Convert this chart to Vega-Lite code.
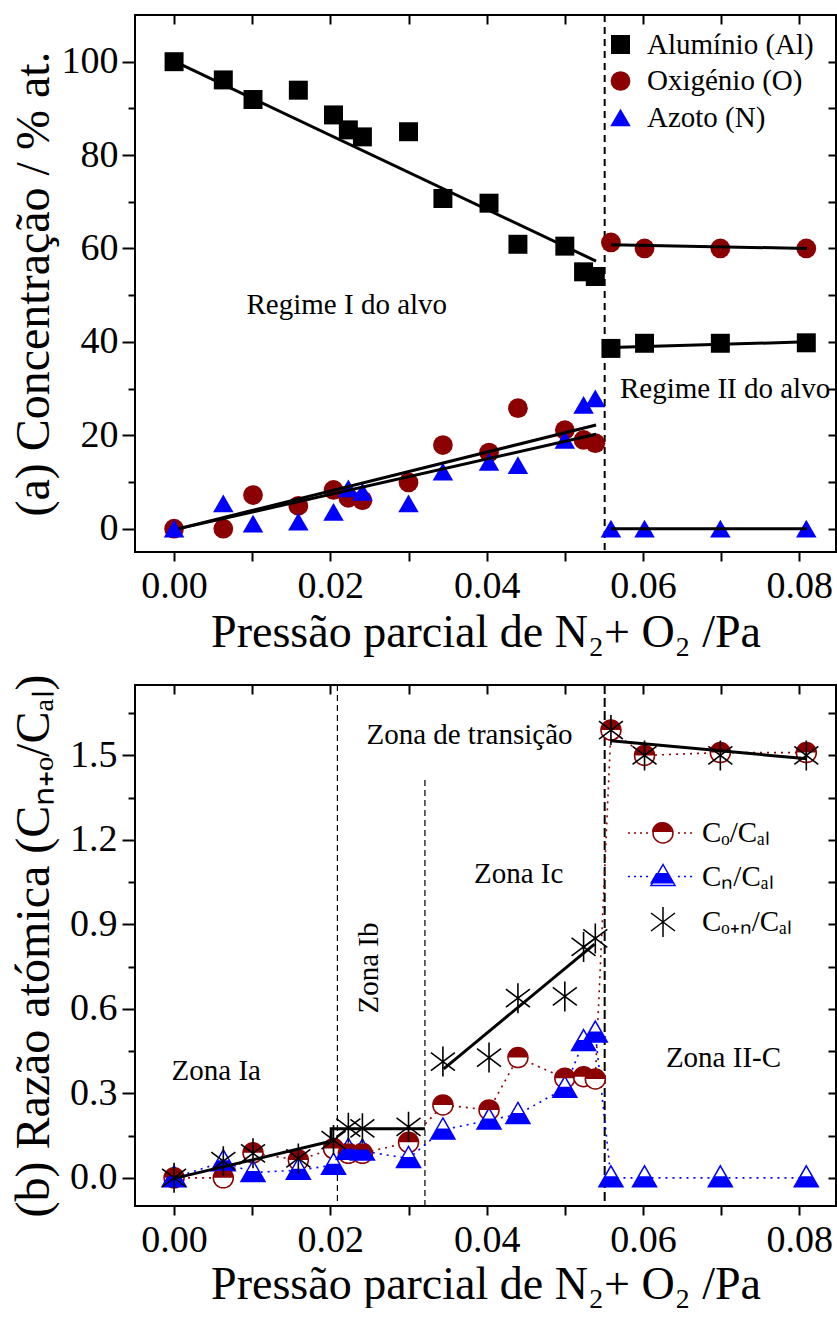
{
  "padding": {"left": 8, "top": 13, "right": 0, "bottom": 0},
  "background": "white",
  "spacing": 133,
  "bounds": "flush",
  "resolve": {
    "scale": {"color": "independent", "shape": "independent", "size": "independent", "fill": "independent", "stroke": "independent"},
    "legend": {"color": "independent", "shape": "independent", "size": "independent", "fill": "independent", "stroke": "independent"}
  },
  "config": {
    "font": "Liberation Serif",
    "view": {"stroke": "black", "strokeWidth": 2},
    "style": {"guide-label": {"font": "Liberation Serif"}, "guide-title": {"font": "Liberation Serif"}},
    "axis": {"domain": false, "grid": false, "tickColor": "black", "tickWidth": 2, "labelColor": "black", "titleColor": "black", "labelFont": "Liberation Serif", "titleFont": "Liberation Serif", "labelFontSize": 38, "titleFontSize": 46, "titleFontWeight": "normal", "labelFlush": false, "labelOverlap": false},
    "legend": {"labelFont": "Liberation Serif", "labelColor": "black"}
  },
  "datasets": {
    "conc": [
      {"el": "Alumínio (Al)", "x": 0, "v": 100}, {"el": "Alumínio (Al)", "x": 0.0063, "v": 96.1}, {"el": "Alumínio (Al)", "x": 0.0101, "v": 91.9}, {"el": "Alumínio (Al)", "x": 0.0159, "v": 93.9}, {"el": "Alumínio (Al)", "x": 0.0204, "v": 88.6}, {"el": "Alumínio (Al)", "x": 0.0223, "v": 85.4}, {"el": "Alumínio (Al)", "x": 0.0241, "v": 83.9}, {"el": "Alumínio (Al)", "x": 0.0300, "v": 85.0}, {"el": "Alumínio (Al)", "x": 0.0344, "v": 70.7}, {"el": "Alumínio (Al)", "x": 0.0403, "v": 69.7}, {"el": "Alumínio (Al)", "x": 0.0440, "v": 60.9}, {"el": "Alumínio (Al)", "x": 0.0500, "v": 60.5}, {"el": "Alumínio (Al)", "x": 0.0524, "v": 55.0}, {"el": "Alumínio (Al)", "x": 0.0539, "v": 54.0}, {"el": "Alumínio (Al)", "x": 0.0559, "v": 38.6}, {"el": "Alumínio (Al)", "x": 0.0602, "v": 39.7}, {"el": "Alumínio (Al)", "x": 0.0699, "v": 39.7}, {"el": "Alumínio (Al)", "x": 0.0809, "v": 39.8},
      {"el": "Oxigénio (O)", "x": 0, "v": 0}, {"el": "Oxigénio (O)", "x": 0.0063, "v": 0}, {"el": "Oxigénio (O)", "x": 0.0101, "v": 7.2}, {"el": "Oxigénio (O)", "x": 0.0159, "v": 4.9}, {"el": "Oxigénio (O)", "x": 0.0204, "v": 8.3}, {"el": "Oxigénio (O)", "x": 0.0223, "v": 6.6}, {"el": "Oxigénio (O)", "x": 0.0241, "v": 6.1}, {"el": "Oxigénio (O)", "x": 0.0300, "v": 9.9}, {"el": "Oxigénio (O)", "x": 0.0344, "v": 17.9}, {"el": "Oxigénio (O)", "x": 0.0403, "v": 16.3}, {"el": "Oxigénio (O)", "x": 0.0440, "v": 25.8}, {"el": "Oxigénio (O)", "x": 0.0500, "v": 21.1}, {"el": "Oxigénio (O)", "x": 0.0524, "v": 19.0}, {"el": "Oxigénio (O)", "x": 0.0539, "v": 18.3}, {"el": "Oxigénio (O)", "x": 0.0559, "v": 61.3}, {"el": "Oxigénio (O)", "x": 0.0602, "v": 60.0}, {"el": "Oxigénio (O)", "x": 0.0699, "v": 60.0}, {"el": "Oxigénio (O)", "x": 0.0809, "v": 60.0},
      {"el": "Azoto (N)", "x": 0, "v": 0}, {"el": "Azoto (N)", "x": 0.0063, "v": 5.4}, {"el": "Azoto (N)", "x": 0.0101, "v": 1.1}, {"el": "Azoto (N)", "x": 0.0159, "v": 1.5}, {"el": "Azoto (N)", "x": 0.0204, "v": 3.6}, {"el": "Azoto (N)", "x": 0.0223, "v": 8.6}, {"el": "Azoto (N)", "x": 0.0241, "v": 7.9}, {"el": "Azoto (N)", "x": 0.0300, "v": 5.4}, {"el": "Azoto (N)", "x": 0.0344, "v": 12.2}, {"el": "Azoto (N)", "x": 0.0403, "v": 14.3}, {"el": "Azoto (N)", "x": 0.0440, "v": 13.6}, {"el": "Azoto (N)", "x": 0.0500, "v": 19.0}, {"el": "Azoto (N)", "x": 0.0524, "v": 26.5}, {"el": "Azoto (N)", "x": 0.0539, "v": 27.9}, {"el": "Azoto (N)", "x": 0.0559, "v": 0}, {"el": "Azoto (N)", "x": 0.0602, "v": 0}, {"el": "Azoto (N)", "x": 0.0699, "v": 0}, {"el": "Azoto (N)", "x": 0.0809, "v": 0}
    ],
    "fitA": [
      {"seg": "Al1", "x": 0.001, "v": 99.3}, {"seg": "Al1", "x": 0.054, "v": 57.3},
      {"seg": "O1", "x": 0.0006, "v": 0}, {"seg": "O1", "x": 0.054, "v": 20.2},
      {"seg": "N1", "x": 0.0006, "v": 0}, {"seg": "N1", "x": 0.054, "v": 22.2},
      {"seg": "Al2", "x": 0.0559, "v": 38.8}, {"seg": "Al2", "x": 0.081, "v": 40.0},
      {"seg": "O2", "x": 0.0559, "v": 60.8}, {"seg": "O2", "x": 0.081, "v": 60.0},
      {"seg": "N2", "x": 0.0559, "v": 0}, {"seg": "N2", "x": 0.081, "v": 0}
    ],
    "vlineA": [{"x": 0.0551}],
    "txtA": [
      {"t": "Regime I do alvo", "x": 0.0221, "v": 48.0},
      {"t": "Regime II do alvo", "x": 0.0705, "v": 29.8}
    ],
    "ratio": [
      {"s": "ON", "x": 0, "v": 0}, {"s": "ON", "x": 0.0063, "v": 0.059}, {"s": "ON", "x": 0.0101, "v": 0.087}, {"s": "ON", "x": 0.0159, "v": 0.069}, {"s": "ON", "x": 0.0204, "v": 0.134}, {"s": "ON", "x": 0.0223, "v": 0.178}, {"s": "ON", "x": 0.0241, "v": 0.176}, {"s": "ON", "x": 0.0300, "v": 0.181}, {"s": "ON", "x": 0.0344, "v": 0.413}, {"s": "ON", "x": 0.0403, "v": 0.427}, {"s": "ON", "x": 0.0440, "v": 0.638}, {"s": "ON", "x": 0.0500, "v": 0.644}, {"s": "ON", "x": 0.0524, "v": 0.82}, {"s": "ON", "x": 0.0539, "v": 0.85}, {"s": "ON", "x": 0.0559, "v": 1.59}, {"s": "ON", "x": 0.0602, "v": 1.50}, {"s": "ON", "x": 0.0699, "v": 1.50}, {"s": "ON", "x": 0.0809, "v": 1.50},
      {"s": "O", "x": 0, "v": 0}, {"s": "O", "x": 0.0063, "v": 0.0}, {"s": "O", "x": 0.0101, "v": 0.089}, {"s": "O", "x": 0.0159, "v": 0.063}, {"s": "O", "x": 0.0204, "v": 0.104}, {"s": "O", "x": 0.0223, "v": 0.087}, {"s": "O", "x": 0.0241, "v": 0.087}, {"s": "O", "x": 0.0300, "v": 0.126}, {"s": "O", "x": 0.0344, "v": 0.259}, {"s": "O", "x": 0.0403, "v": 0.241}, {"s": "O", "x": 0.0440, "v": 0.427}, {"s": "O", "x": 0.0500, "v": 0.354}, {"s": "O", "x": 0.0524, "v": 0.359}, {"s": "O", "x": 0.0539, "v": 0.351}, {"s": "O", "x": 0.0559, "v": 1.59}, {"s": "O", "x": 0.0602, "v": 1.50}, {"s": "O", "x": 0.0699, "v": 1.51}, {"s": "O", "x": 0.0809, "v": 1.51},
      {"s": "N", "x": 0, "v": 0}, {"s": "N", "x": 0.0063, "v": 0.057}, {"s": "N", "x": 0.0101, "v": 0.019}, {"s": "N", "x": 0.0159, "v": 0.027}, {"s": "N", "x": 0.0204, "v": 0.045}, {"s": "N", "x": 0.0223, "v": 0.098}, {"s": "N", "x": 0.0241, "v": 0.095}, {"s": "N", "x": 0.0300, "v": 0.069}, {"s": "N", "x": 0.0344, "v": 0.17}, {"s": "N", "x": 0.0403, "v": 0.205}, {"s": "N", "x": 0.0440, "v": 0.225}, {"s": "N", "x": 0.0500, "v": 0.318}, {"s": "N", "x": 0.0524, "v": 0.484}, {"s": "N", "x": 0.0539, "v": 0.514}, {"s": "N", "x": 0.0559, "v": 0}, {"s": "N", "x": 0.0602, "v": 0}, {"s": "N", "x": 0.0699, "v": 0}, {"s": "N", "x": 0.0809, "v": 0}
    ],
    "fitB": [
      {"seg": "L1", "i": 0, "x": 0.0003, "v": 0.0}, {"seg": "L1", "i": 1, "x": 0.0198, "v": 0.128},
      {"seg": "L2", "i": 0, "x": 0.0201, "v": 0.125}, {"seg": "L2", "i": 1, "x": 0.0201, "v": 0.174}, {"seg": "L2", "i": 2, "x": 0.0321, "v": 0.174},
      {"seg": "L3", "i": 0, "x": 0.0345, "v": 0.387}, {"seg": "L3", "i": 1, "x": 0.0538, "v": 0.83},
      {"seg": "L4", "i": 0, "x": 0.0559, "v": 1.552}, {"seg": "L4", "i": 1, "x": 0.081, "v": 1.488}
    ],
    "vlineThin": [{"x": 0.0209}],
    "vlinePart": [{"x": 0.0321, "top": 1.413}],
    "vlineThick": [{"x": 0.0551}],
    "txtB": [
      {"t": "Zona de transição", "x": 0.0378, "v": 1.574},
      {"t": "Zona Ic", "x": 0.0441, "v": 1.078},
      {"t": "Zona Ia", "x": 0.0054, "v": 0.38},
      {"t": "Zona II-C", "x": 0.0703, "v": 0.427}
    ],
    "txtBrot": [
      {"t": "Zona Ib", "x": 0.025, "v": 0.745}
    ]
  },
  "vconcat": [
    {
      "width": 701,
      "height": 537,
      "resolve": {"axis": {"x": "independent", "y": "independent"}},
      "layer": [
        {
          "data": {"name": "vlineA"},
          "mark": {"type": "rule", "strokeDash": [7, 5], "strokeWidth": 2, "color": "black"},
          "encoding": {
            "x": {"field": "x", "type": "quantitative", "scale": {"domain": [-0.005, 0.0847], "nice": false, "zero": false},
              "axis": {"orient": "bottom", "values": [0, 0.01, 0.02, 0.03, 0.04, 0.05, 0.06, 0.07, 0.08], "labelExpr": "round(datum.value*100) % 2 === 0 ? format(datum.value, '.2f') : ''", "tickSize": 9, "labelPadding": 6, "labelFont": "Liberation Serif", "labelFontSize": 38, "title": "Pressão parcial de N₂+ O₂ /Pa", "titleFont": "Liberation Serif", "titleFontSize": 46, "titlePadding": 5}}
          }
        },
        {
          "data": {"name": "conc"},
          "mark": {"type": "point", "filled": true, "opacity": 1},
          "encoding": {
            "x": {"field": "x", "type": "quantitative", "scale": {"domain": [-0.005, 0.0847], "nice": false, "zero": false},
              "axis": {"orient": "top", "values": [0, 0.01, 0.02, 0.03, 0.04, 0.05, 0.06, 0.07, 0.08], "labels": false, "tickSize": -9, "title": null}},
            "y": {"field": "v", "type": "quantitative", "scale": {"domain": [-5, 110], "nice": false, "zero": false},
              "axis": {"orient": "left", "values": [0, 20, 40, 60, 80, 100], "tickSize": 13, "labelPadding": 4, "labelFont": "Liberation Serif", "labelFontSize": 38, "title": "(a) Concentração / % at.", "titleFont": "Liberation Serif", "titleFontSize": 48, "titleX": -77}},
            "color": {"field": "el", "type": "nominal", "scale": {"domain": ["Alumínio (Al)", "Oxigénio (O)", "Azoto (N)"], "range": ["#000000", "#8B0000", "#0000FF"]},
              "legend": {"title": null, "orient": "none", "legendX": 471, "legendY": 15, "padding": 0, "rowPadding": 6.5, "symbolSize": 400, "labelFont": "Liberation Serif", "labelFontSize": 29, "labelOffset": 12, "labelLimit": 0, "symbolStrokeWidth": 0}},
            "shape": {"field": "el", "type": "nominal", "scale": {"domain": ["Alumínio (Al)", "Oxigénio (O)", "Azoto (N)"], "range": ["square", "circle", "triangle-up"]},
              "legend": {"title": null, "orient": "none", "legendX": 471, "legendY": 15, "padding": 0, "rowPadding": 6.5, "symbolSize": 400, "labelFont": "Liberation Serif", "labelFontSize": 29, "labelOffset": 12, "labelLimit": 0, "symbolStrokeWidth": 0}},
            "size": {"field": "el", "type": "ordinal", "scale": {"domain": ["Alumínio (Al)", "Oxigénio (O)", "Azoto (N)"], "range": [360, 420, 600]}, "legend": null}
          }
        },
        {
          "data": {"name": "fitA"},
          "mark": {"type": "line", "color": "black", "strokeWidth": 3},
          "encoding": {
            "x": {"field": "x", "type": "quantitative", "scale": {"domain": [-0.005, 0.0847], "nice": false, "zero": false}, "axis": null},
            "y": {"field": "v", "type": "quantitative", "scale": {"domain": [-5, 110], "nice": false, "zero": false},
              "axis": {"orient": "left", "values": [10, 30, 50, 70, 90], "tickSize": 7, "labels": false, "title": null}},
            "detail": {"field": "seg", "type": "nominal"}
          }
        },
        {
          "data": {"name": "txtA"},
          "mark": {"type": "text", "fontSize": 29, "font": "Liberation Serif", "color": "black", "align": "center", "baseline": "middle"},
          "encoding": {
            "x": {"field": "x", "type": "quantitative", "scale": {"domain": [-0.005, 0.0847], "nice": false, "zero": false}, "axis": null},
            "y": {"field": "v", "type": "quantitative", "scale": {"domain": [-5, 110], "nice": false, "zero": false},
              "axis": {"orient": "right", "values": [0, 10, 20, 30, 40, 50, 60, 70, 80, 90, 100], "tickSize": -8, "labels": false, "title": null}},
            "text": {"field": "t", "type": "nominal"}
          }
        }
      ]
    },
    {
      "width": 701,
      "height": 521,
      "resolve": {
        "axis": {"x": "independent", "y": "independent"},
        "scale": {"shape": "independent", "fill": "independent", "stroke": "independent", "color": "independent"},
        "legend": {"shape": "independent", "fill": "independent", "stroke": "independent", "color": "independent"}
      },
      "layer": [
        {
          "data": {"name": "vlineThin"},
          "mark": {"type": "rule", "strokeDash": [6, 4], "strokeWidth": 1.2, "color": "black"},
          "encoding": {
            "x": {"field": "x", "type": "quantitative", "scale": {"domain": [-0.005, 0.0847], "nice": false, "zero": false},
              "axis": {"orient": "bottom", "values": [0, 0.01, 0.02, 0.03, 0.04, 0.05, 0.06, 0.07, 0.08], "labelExpr": "round(datum.value*100) % 2 === 0 ? format(datum.value, '.2f') : ''", "tickSize": 9, "labelPadding": 6, "labelFont": "Liberation Serif", "labelFontSize": 38, "title": "Pressão parcial de N₂+ O₂ /Pa", "titleFont": "Liberation Serif", "titleFontSize": 46, "titlePadding": 3}}
          }
        },
        {
          "data": {"name": "vlinePart"},
          "mark": {"type": "rule", "strokeDash": [6, 4], "strokeWidth": 1.2, "color": "black"},
          "encoding": {
            "x": {"field": "x", "type": "quantitative", "scale": {"domain": [-0.005, 0.0847], "nice": false, "zero": false}, "axis": null},
            "y": {"field": "top", "type": "quantitative", "scale": {"domain": [-0.1, 1.75], "nice": false, "zero": false}, "axis": null},
            "y2": {"datum": -0.1}
          }
        },
        {
          "data": {"name": "vlineThick"},
          "mark": {"type": "rule", "strokeDash": [9, 4], "strokeWidth": 2, "color": "black"},
          "encoding": {
            "x": {"field": "x", "type": "quantitative", "scale": {"domain": [-0.005, 0.0847], "nice": false, "zero": false}, "axis": null}
          }
        },
        {
          "data": {"name": "ratio"},
          "transform": [{"filter": "datum.s !== 'ON'"}],
          "mark": {"type": "line", "strokeDash": [2, 5], "strokeWidth": 1.6},
          "encoding": {
            "x": {"field": "x", "type": "quantitative", "scale": {"domain": [-0.005, 0.0847], "nice": false, "zero": false}, "axis": null},
            "y": {"field": "v", "type": "quantitative", "scale": {"domain": [-0.1, 1.75], "nice": false, "zero": false},
              "axis": {"orient": "left", "values": [0.15, 0.45, 0.75, 1.05, 1.35, 1.65], "tickSize": 7, "labels": false, "title": null}},
            "color": {"field": "s", "type": "nominal", "scale": {"domain": ["O", "N"], "range": ["#8B0000", "#0000FF"]}, "legend": null}
          }
        },
        {
          "data": {"name": "ratio"},
          "transform": [{"filter": "datum.s === 'O'"}],
          "mark": {"type": "point", "shape": "M0.667,0A0.667,0.667 0 1,1 -0.667,0A0.667,0.667 0 1,1 0.667,0Z", "size": 900, "filled": true, "opacity": 1, "fill": "#ffffff", "stroke": "#8B0000", "strokeWidth": 1.5},
          "encoding": {
            "x": {"field": "x", "type": "quantitative", "scale": {"domain": [-0.005, 0.0847], "nice": false, "zero": false}, "axis": null},
            "y": {"field": "v", "type": "quantitative", "scale": {"domain": [-0.1, 1.75], "nice": false, "zero": false}, "axis": null}
          }
        },
        {
          "data": {"name": "ratio"},
          "transform": [{"filter": "datum.s === 'N'"}],
          "mark": {"type": "point", "shape": "M0,-0.8L0.8,0.6L-0.8,0.6Z", "size": 900, "filled": true, "opacity": 1, "fill": "#ffffff", "stroke": "#0000FF", "strokeWidth": 1.5},
          "encoding": {
            "x": {"field": "x", "type": "quantitative", "scale": {"domain": [-0.005, 0.0847], "nice": false, "zero": false}, "axis": null},
            "y": {"field": "v", "type": "quantitative", "scale": {"domain": [-0.1, 1.75], "nice": false, "zero": false}, "axis": null}
          }
        },
        {
          "data": {"name": "ratio"},
          "transform": [{"filter": "datum.s !== 'ON'"}],
          "mark": {"type": "point", "size": 900, "filled": true, "opacity": 1, "strokeWidth": 0},
          "encoding": {
            "x": {"field": "x", "type": "quantitative", "scale": {"domain": [-0.005, 0.0847], "nice": false, "zero": false}, "axis": null},
            "y": {"field": "v", "type": "quantitative", "scale": {"domain": [-0.1, 1.75], "nice": false, "zero": false}, "axis": null},
            "shape": {"field": "s", "type": "nominal",
              "scale": {"domain": ["O", "N", "ON"], "range": ["M-0.667,0A0.667,0.667 0 0,1 0.667,0Z", "M-0.4,-0.1L0.4,-0.1L0.8,0.6L-0.8,0.6Z", "M0,0"]},
              "legend": {"title": null, "orient": "none", "legendX": 512, "legendY": 132, "padding": 0, "rowPadding": 12.5, "symbolSize": 900, "symbolStrokeWidth": 0, "labelOffset": 23, "labelFont": "Liberation Serif", "labelFontSize": 29, "labelLimit": 0, "labelExpr": "''"}},
            "fill": {"field": "s", "type": "nominal",
              "scale": {"domain": ["O", "N", "ON"], "range": ["#8B0000", "#0000FF", "transparent"]},
              "legend": {"title": null, "orient": "none", "legendX": 512, "legendY": 132, "padding": 0, "rowPadding": 12.5, "symbolSize": 900, "symbolStrokeWidth": 0, "labelOffset": 23, "labelFont": "Liberation Serif", "labelFontSize": 29, "labelLimit": 0, "labelExpr": "''"}}
          }
        },
        {
          "data": {"name": "ratio"},
          "transform": [{"filter": "datum.s === 'ON'"}],
          "mark": {"type": "point", "size": 900, "filled": false, "opacity": 1, "strokeWidth": 1.6},
          "encoding": {
            "x": {"field": "x", "type": "quantitative", "scale": {"domain": [-0.005, 0.0847], "nice": false, "zero": false}, "axis": null},
            "y": {"field": "v", "type": "quantitative", "scale": {"domain": [-0.1, 1.75], "nice": false, "zero": false},
              "axis": {"orient": "right", "values": [0, 0.15, 0.3, 0.45, 0.6, 0.75, 0.9, 1.05, 1.2, 1.35, 1.5, 1.65], "tickSize": -8, "labels": false, "title": null}},
            "shape": {"field": "s", "type": "nominal",
              "scale": {"domain": ["O", "N", "ON"], "range": [
                "M-2.33,0L-2.2,0M-1.93,0L-1.8,0M-1.53,0L-1.4,0M-1.13,0L-1.0,0M1.0,0L1.13,0M1.4,0L1.53,0M1.8,0L1.93,0M0.667,0A0.667,0.667 0 1,1 -0.667,0A0.667,0.667 0 1,1 0.667,0Z",
                "M-2.33,0L-2.2,0M-1.93,0L-1.8,0M-1.53,0L-1.4,0M-1.13,0L-1.0,0M1.0,0L1.13,0M1.4,0L1.53,0M1.8,0L1.93,0M0,-0.8L0.8,0.6L-0.8,0.6Z",
                "M0,-1L0,1M-0.8,-0.6L0.8,0.6M-0.8,0.6L0.8,-0.6"]},
              "legend": {"title": null, "orient": "none", "legendX": 512, "legendY": 132, "padding": 0, "rowPadding": 12.5, "symbolSize": 900, "symbolStrokeWidth": 1.5, "labelOffset": 23, "labelFont": "Liberation Serif", "labelFontSize": 29, "labelLimit": 0,
                "labelExpr": "datum.value === 'O' ? 'Cₒ/Cₐₗ' : datum.value === 'N' ? 'Cₙ/Cₐₗ' : 'Cₒ₊ₙ/Cₐₗ'"}},
            "stroke": {"field": "s", "type": "nominal",
              "scale": {"domain": ["O", "N", "ON"], "range": ["#8B0000", "#0000FF", "#000000"]},
              "legend": {"title": null, "orient": "none", "legendX": 512, "legendY": 132, "padding": 0, "rowPadding": 12.5, "symbolSize": 900, "symbolStrokeWidth": 1.5, "labelOffset": 23, "labelFont": "Liberation Serif", "labelFontSize": 29, "labelLimit": 0,
                "labelExpr": "datum.value === 'O' ? 'Cₒ/Cₐₗ' : datum.value === 'N' ? 'Cₙ/Cₐₗ' : 'Cₒ₊ₙ/Cₐₗ'"}}
          }
        },
        {
          "data": {"name": "fitB"},
          "mark": {"type": "line", "color": "black", "strokeWidth": 3},
          "encoding": {
            "x": {"field": "x", "type": "quantitative", "scale": {"domain": [-0.005, 0.0847], "nice": false, "zero": false},
              "axis": {"orient": "top", "values": [0, 0.01, 0.02, 0.03, 0.04, 0.05, 0.06, 0.07, 0.08], "labels": false, "tickSize": -9, "title": null}},
            "y": {"field": "v", "type": "quantitative", "scale": {"domain": [-0.1, 1.75], "nice": false, "zero": false},
              "axis": {"orient": "left", "values": [0, 0.3, 0.6, 0.9, 1.2, 1.5], "format": ".1f", "tickSize": 13, "labelPadding": 5, "labelFont": "Liberation Serif", "labelFontSize": 38, "title": "(b) Razão atómica (Cₙ₊ₒ/Cₐₗ)", "titleFont": "Liberation Serif", "titleFontSize": 48, "titleX": -77}},
            "detail": {"field": "seg", "type": "nominal"},
            "order": {"field": "i", "type": "quantitative"}
          }
        },
        {
          "data": {"name": "txtB"},
          "mark": {"type": "text", "fontSize": 29, "font": "Liberation Serif", "color": "black", "align": "center", "baseline": "middle"},
          "encoding": {
            "x": {"field": "x", "type": "quantitative", "scale": {"domain": [-0.005, 0.0847], "nice": false, "zero": false}, "axis": null},
            "y": {"field": "v", "type": "quantitative", "scale": {"domain": [-0.1, 1.75], "nice": false, "zero": false}, "axis": null},
            "text": {"field": "t", "type": "nominal"}
          }
        },
        {
          "data": {"name": "txtBrot"},
          "mark": {"type": "text", "fontSize": 29, "font": "Liberation Serif", "color": "black", "align": "center", "baseline": "middle", "angle": 270},
          "encoding": {
            "x": {"field": "x", "type": "quantitative", "scale": {"domain": [-0.005, 0.0847], "nice": false, "zero": false}, "axis": null},
            "y": {"field": "v", "type": "quantitative", "scale": {"domain": [-0.1, 1.75], "nice": false, "zero": false}, "axis": null},
            "text": {"field": "t", "type": "nominal"}
          }
        }
      ]
    }
  ]
}
